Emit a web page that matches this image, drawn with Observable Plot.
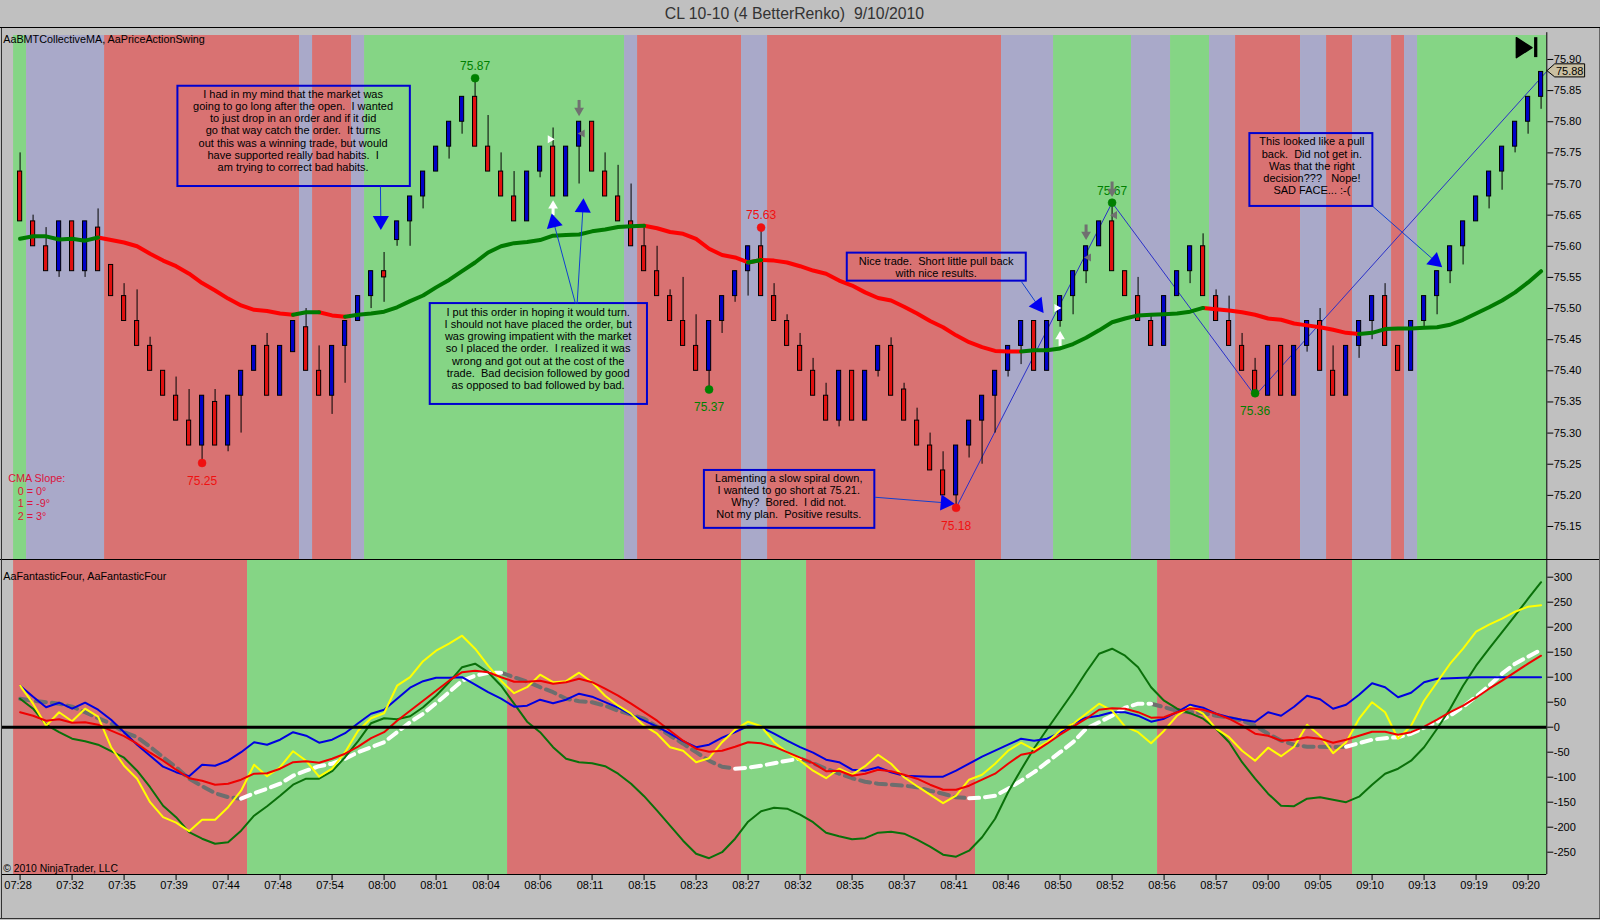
<!DOCTYPE html>
<html>
<head>
<meta charset="utf-8">
<script src="https://cdn.jsdelivr.net/npm/d3@7"></script>
<script src="https://cdn.jsdelivr.net/npm/@observablehq/plot@0.6"></script>
<style>
html,body{margin:0;padding:0;background:#c0c0c0;overflow:hidden}
#page{position:relative;width:1600px;height:920px;background:#c0c0c0;font-family:"Liberation Sans",Arial,sans-serif}
#title{height:27px;line-height:27px;text-align:center;font-size:15.8px;color:#333;border-bottom:1px solid #000;white-space:pre;padding-right:11px}
#top svg,#bottom svg{display:block}
#bottom{border-top:1px solid #000}
#lb{position:absolute;left:1px;top:28px;width:1px;height:891px;background:#333}
#rb{position:absolute;left:1599px;top:28px;width:1px;height:891px;background:#666}
#bb{position:absolute;left:0;top:918px;width:1600px;height:1px;background:#333}
</style>
</head>
<body>
<div id="page">
<div id="title">CL 10-10 (4 BetterRenko)  9/10/2010</div>
<div id="top"></div>
<div id="bottom"></div>
<div id="lb"></div><div id="rb"></div><div id="bb"></div>
</div>
<script>
// ---------- candles (Renko bars, index 0..117) ----------
const opens = [
75.72,75.64,75.60,75.56,75.64,75.56,75.63,75.57,75.52,75.48,
75.44,75.40,75.36,75.32,75.28,75.35,75.28,75.36,75.40,75.44,
75.36,75.43,75.47,75.40,75.36,75.44,75.48,75.52,75.56,75.61,
75.64,75.68,75.72,75.76,75.80,75.84,75.76,75.72,75.68,75.64,
75.72,75.76,75.68,75.76,75.80,75.72,75.68,75.64,75.60,75.56,
75.52,75.48,75.44,75.40,75.48,75.52,75.56,75.60,75.52,75.48,
75.44,75.40,75.36,75.32,75.40,75.32,75.40,75.44,75.37,75.32,
75.28,75.24,75.20,75.28,75.32,75.36,75.40,75.44,75.48,75.40,
75.48,75.52,75.56,75.60,75.64,75.56,75.52,75.48,75.44,75.52,
75.56,75.60,75.52,75.48,75.44,75.40,75.36,75.44,75.36,75.44,
75.48,75.40,75.36,75.44,75.48,75.52,75.44,75.40,75.48,75.52,
75.56,75.60,75.64,75.68,75.72,75.76,75.80,75.84];
const closes = [
75.64,75.60,75.56,75.64,75.56,75.64,75.56,75.52,75.48,75.44,
75.40,75.36,75.32,75.28,75.36,75.28,75.36,75.40,75.44,75.36,
75.44,75.48,75.40,75.36,75.44,75.48,75.52,75.56,75.55,75.64,
75.68,75.72,75.76,75.80,75.84,75.76,75.72,75.68,75.64,75.72,
75.76,75.68,75.76,75.80,75.72,75.68,75.64,75.60,75.56,75.52,
75.48,75.44,75.40,75.48,75.52,75.56,75.60,75.52,75.48,75.44,
75.40,75.36,75.32,75.40,75.32,75.40,75.44,75.36,75.32,75.28,
75.24,75.20,75.28,75.32,75.36,75.40,75.44,75.48,75.40,75.48,
75.52,75.56,75.60,75.64,75.56,75.52,75.48,75.44,75.52,75.56,
75.60,75.52,75.48,75.44,75.40,75.36,75.44,75.36,75.44,75.48,
75.40,75.36,75.44,75.48,75.52,75.44,75.40,75.48,75.52,75.56,
75.60,75.64,75.68,75.72,75.76,75.80,75.84,75.88];
const highs = [
75.75,75.65,75.63,75.64,75.64,75.64,75.66,75.57,75.54,75.53,
75.454,75.40,75.39,75.37,75.36,75.37,75.36,75.40,75.44,75.46,
75.44,75.48,75.50,75.44,75.44,75.48,75.52,75.56,75.59,75.64,
75.68,75.72,75.76,75.80,75.84,75.87,75.81,75.75,75.72,75.72,
75.76,75.79,75.76,75.80,75.80,75.75,75.73,75.70,75.63,75.60,
75.53,75.55,75.49,75.48,75.52,75.56,75.60,75.63,75.54,75.49,
75.46,75.42,75.38,75.40,75.40,75.40,75.44,75.453,75.38,75.34,
75.30,75.27,75.28,75.32,75.36,75.40,75.44,75.48,75.48,75.48,
75.52,75.56,75.60,75.64,75.67,75.56,75.55,75.49,75.52,75.56,
75.60,75.62,75.53,75.52,75.46,75.42,75.44,75.44,75.44,75.48,
75.50,75.44,75.44,75.48,75.52,75.54,75.44,75.48,75.52,75.56,
75.60,75.64,75.68,75.72,75.76,75.80,75.84,75.88];
const lows = [
75.64,75.60,75.56,75.55,75.56,75.55,75.56,75.52,75.48,75.44,
75.40,75.36,75.32,75.28,75.25,75.28,75.27,75.30,75.40,75.36,
75.36,75.43,75.40,75.36,75.33,75.38,75.48,75.50,75.51,75.60,
75.60,75.66,75.72,75.74,75.78,75.76,75.72,75.68,75.64,75.64,
75.71,75.68,75.68,75.70,75.72,75.68,75.64,75.60,75.56,75.52,
75.48,75.44,75.40,75.37,75.46,75.51,75.52,75.52,75.48,75.44,
75.40,75.36,75.32,75.31,75.32,75.32,75.39,75.36,75.32,75.28,
75.24,75.20,75.18,75.26,75.25,75.30,75.39,75.41,75.40,75.40,
75.47,75.49,75.54,75.60,75.56,75.52,75.48,75.44,75.44,75.52,
75.54,75.52,75.48,75.44,75.40,75.36,75.36,75.36,75.36,75.43,
75.40,75.36,75.36,75.42,75.45,75.44,75.40,75.40,75.47,75.49,
75.54,75.57,75.64,75.66,75.69,75.75,75.78,75.82];

// ---------- collective moving average, upper panel ----------
const cma = [
75.612,75.616,75.616,75.611,75.612,75.609,75.614,75.610,75.606,75.600,
75.588,75.577,75.568,75.556,75.541,75.529,75.516,75.505,75.498,75.496,
75.492,75.490,75.494,75.494,75.489,75.487,75.490,75.492,75.495,75.502,
75.512,75.521,75.534,75.546,75.560,75.574,75.590,75.600,75.605,75.607,
75.610,75.617,75.618,75.619,75.624,75.627,75.631,75.632,75.633,75.629,
75.623,75.620,75.612,75.596,75.586,75.582,75.574,75.578,75.577,75.574,
75.568,75.561,75.556,75.545,75.537,75.526,75.517,75.513,75.503,75.492,
75.480,75.470,75.457,75.446,75.438,75.432,75.431,75.431,75.433,75.433,
75.436,75.443,75.453,75.465,75.478,75.484,75.489,75.490,75.491,75.492,
75.495,75.501,75.499,75.497,75.494,75.490,75.484,75.482,75.476,75.473,
75.470,75.466,75.461,75.459,75.461,75.467,75.468,75.468,75.469,75.470,
75.474,75.482,75.492,75.502,75.513,75.526,75.542,75.560];
const cmaGreenSpans = [[0,6],[21,23],[25,48],[56,57],[77,91],[103,117]];
const cmaRedSpans = [[6,21],[23,25],[48,56],[57,77],[91,103]];

// ---------- background bands ----------
const topEdges = [-0.5,0.5,6.5,21.5,22.5,25.5,26.5,46.5,47.5,55.5,57.5,75.5,79.5,85.5,88.5,91.5,93.5,98.5,100.5,102.5,105.5,106.5,107.5,117.44];
const topKinds = ["g","b","r","b","r","b","g","b","r","b","r","b","g","b","g","b","r","b","r","b","r","b","g"];
const lowEdges = [-0.5,17.5,37.5,55.5,60.5,73.5,87.5,102.5,117.44];
const lowKinds = ["r","g","r","g","r","g","r","g"];
const bandColors = {g:"#85d585", r:"#d97272", b:"#a9a9c9"};

// ---------- swing points ----------
const swingI = [14,35,53,57,72,84,95];
const swingP = [75.252,75.87,75.37,75.63,75.18,75.67,75.364];
const swingText = ["75.25","75.87","75.37","75.63","75.18","75.67","75.36"];
const swingColor = ["#f01010","#008000","#008000","#f01010","#f01010","#008000","#008000"];
const swingDy = [18,-12,18,-12,18,-12,18];
const zigI = [72,84,95,117.4];
const zigP = [75.18,75.67,75.36,75.88];

// ---------- annotations ----------
const boxI1 = [12.14,31.55,63.63,52.64,94.6];
const boxI2 = [30.02,48.26,77.4,65.75,104.06];
const boxP1 = [75.857,75.508,75.589,75.24,75.781];
const boxP2 = [75.696,75.346,75.544,75.147,75.664];
const noteI = [21.0,39.85,70.47,59.13,99.37];
const noteP = [75.786,75.436,75.567,75.199,75.729];
const noteText = [
"I had in my mind that the market was\ngoing to go long after the open.  I wanted\nto just drop in an order and if it did\ngo that way catch the order.  It turns\nout this was a winning trade, but would\nhave supported really bad habits.  I\nam trying to correct bad habits.",
"I put this order in hoping it would turn.\nI should not have placed the order, but\nwas growing impatient with the market\nso I placed the order.  I realized it was\nwrong and got out at the cost of the\ntrade.  Bad decision followed by good\nas opposed to bad followed by bad.",
"Nice trade.  Short little pull back\nwith nice results.",
"Lamenting a slow spiral down,\nI wanted to go short at 75.21.\nWhy?  Bored.  I did not.\nNot my plan.  Positive results.",
"This looked like a pull\nback.  Did not get in.\nWas that the right\ndecision???   Nope!\nSAD FACE... :-("];
const arrowI1 = [27.72,42.72,42.85,77.0,65.75,104.06];
const arrowP1 = [75.696,75.508,75.508,75.544,75.197,75.664];
const arrowI2 = [27.75,41.05,43.3,78.3,71.18,108.85];
const arrowP2 = [75.641,75.638,75.662,75.505,75.188,75.576];
const headRot = [180,-13,3,143,95,131];

// ---------- small order arrows ----------
const upI = [41,80];
const upP1 = [75.650,75.440];
const upP2 = [75.665,75.455];
const downI = [43,84,82];
const downP1 = [75.835,75.704,75.635];
const downP2 = [75.818,75.688,75.619];
const whiteTriI = [40.77,79.74];
const whiteTriP = [75.772,75.501];
const grayTriI = [43.25,84.2,82.2];
const grayTriP = [75.781,75.65,75.582];

// ---------- lower panel indicator series ----------
const blueLine = [
83,61,40,49,37,49,35,15,-10,-35,
-57,-79,-90,-98,-75,-77,-67,-50,-30,-35,
-25,-10,-17,-31,-25,-12,8,27,35,57,
79,92,99,99,100,85,70,57,41,43,
55,48,55,67,61,50,39,25,13,1,
-13,-28,-40,-35,-21,-10,2,0,-13,-27,
-40,-51,-65,-70,-85,-87,-80,-90,-97,-98,
-99,-99,-87,-73,-59,-47,-35,-23,-27,-23,
-11,7,19,23,30,30,23,11,17,30,
45,39,27,20,15,11,30,23,41,63,
56,37,45,65,88,80,60,69,90,97,
98,99,100,100,100,100,100,100];
const yellowLine = [
83,47,3,30,12,37,21,-40,-77,-103,
-150,-180,-191,-208,-185,-185,-160,-127,-75,-98,
-80,-48,-67,-99,-83,-50,-7,18,28,83,
100,132,153,167,183,157,123,93,68,80,
105,90,92,109,90,63,43,27,3,-13,
-40,-47,-70,-62,-30,-5,11,2,-30,-50,
-67,-87,-102,-83,-95,-78,-55,-73,-100,-118,
-135,-152,-137,-105,-95,-73,-47,-31,-45,-30,
-7,7,27,47,33,1,-10,-32,-7,23,
41,27,-3,-20,-47,-67,-41,-58,-39,5,
-17,-52,-30,17,50,30,-23,3,53,90,
127,157,191,205,217,231,241,244];
const greenLine = [
57,37,5,-10,-23,-28,-35,-48,-61,-87,
-120,-157,-180,-210,-223,-233,-230,-207,-177,-158,
-137,-115,-103,-103,-88,-60,-28,8,18,16,
22,40,63,90,120,127,110,83,47,11,
-10,-40,-63,-70,-72,-78,-93,-113,-138,-167,
-197,-227,-253,-262,-250,-223,-189,-168,-161,-163,
-175,-190,-211,-218,-224,-222,-211,-209,-213,-225,
-239,-255,-259,-247,-220,-183,-130,-85,-42,-4,
33,70,110,147,157,143,120,80,53,37,
28,17,-3,-30,-70,-103,-133,-157,-158,-143,
-140,-145,-150,-139,-115,-93,-83,-67,-40,-3,
37,83,123,157,190,223,257,290];
const redLine = [
30,23,13,16,9,10,5,-7,-18,-33,
-51,-67,-85,-102,-107,-115,-113,-105,-93,-92,
-83,-70,-68,-71,-63,-53,-39,-22,-10,13,
33,53,73,93,110,113,110,100,91,91,
93,87,90,97,90,77,63,47,30,13,
-7,-27,-43,-49,-47,-39,-30,-32,-39,-50,
-61,-72,-88,-87,-97,-93,-85,-88,-95,-103,
-115,-125,-125,-117,-105,-93,-73,-55,-50,-33,
-15,1,17,35,38,37,30,19,20,30,
38,35,27,17,3,-13,-17,-27,-25,-20,
-23,-31,-25,-17,-9,-9,-15,-10,1,15,
30,43,59,77,93,110,127,143];
const dashLine = [
57,53,50,47,41,30,18,7,-10,-20,
-39,-60,-80,-103,-118,-132,-140,-143,-132,-123,
-113,-97,-87,-78,-73,-63,-50,-40,-30,-10,
10,27,48,70,93,103,109,109,100,91,
80,70,57,52,50,43,33,25,17,1,
-17,-33,-50,-67,-79,-83,-81,-77,-72,-67,
-63,-72,-83,-93,-102,-109,-113,-115,-117,-120,
-127,-133,-140,-142,-141,-137,-123,-107,-90,-70,
-50,-30,-3,10,23,39,47,47,40,33,
30,28,23,19,13,3,-13,-27,-35,-39,
-39,-40,-39,-32,-25,-22,-20,-13,-1,11,
23,41,61,83,107,127,141,155];
const dashWhiteSpans = [[17,37],[55,60],[73,87],[102,117]];
const dashGraySpans = [[0,17],[37,55],[60,73],[87,102]];

// ---------- axes ----------
const priceTicks = [75.15,75.20,75.25,75.30,75.35,75.40,75.45,75.50,75.55,75.60,75.65,75.70,75.75,75.80,75.85,75.90];
const oscTicks = [-250,-200,-150,-100,-50,0,50,100,150,200,250,300];
const timeLabels = ["07:28","07:32","07:35","07:39","07:44","07:48","07:54","08:00","08:01","08:04","08:06","08:11","08:15","08:23","08:27","08:32","08:35","08:37","08:41","08:46","08:50","08:52","08:56","08:57","09:00","09:05","09:10","09:13","09:19","09:20"];
const lastPrice = 75.88;
const tagI = [117.45,118.05,120.35,120.35,118.05,117.45];
const tagP = [75.882,75.893,75.893,75.872,75.872,75.882];
const endTriI = [115.1,116.3,115.1,115.1];
const endTriP = [75.935,75.919,75.903,75.935];

// ---------- derived rows ----------
const idx = d3.range(opens.length);
const candles = idx.map(i => ({i, o:opens[i], c:closes[i], h:highs[i], l:lows[i]}));
const bandsOf = (edges, kinds) => kinds.map((k,j) => ({x1:edges[j], x2:edges[j+1], k}));
const inSpans = (i, spans) => spans.some(([a,b]) => i>=a && i<=b);
const spanSeries = (values, spans) => values.map((v,i) => ({i, v: inSpans(i,spans) ? v : NaN}));
const xDomain = [-1.43, 117.44];
const fontFam = '"Liberation Sans", Arial, sans-serif';
const bandScale = {domain:Object.keys(bandColors), range:Object.values(bandColors)};
const boxes = boxI1.map((_,j) => ({x1:boxI1[j], x2:boxI2[j], y1:boxP1[j], y2:boxP2[j]}));
const notes = noteI.map((_,j) => ({x:noteI[j], y:noteP[j], t:noteText[j]}));
const arrows = arrowI1.map((_,j) => ({x1:arrowI1[j], y1:arrowP1[j], x2:arrowI2[j], y2:arrowP2[j], r:headRot[j]}));
const swings = swingI.map((_,j) => ({i:swingI[j], p:swingP[j], t:swingText[j], c:swingColor[j], dy:swingDy[j]}));
const ptr = (xs, ys) => xs.map((x,j) => ({x, y:ys[j]}));
const swingLabels = [...d3.group(swings, d => d.dy)].map(([dy,rows]) =>
  Plot.text(rows, {x:"i", y:"p", text:"t", dy, fontSize:12, fill:"c"}));

const labelText = (rows, o) => Plot.text(rows, {fontSize:10.8, textAnchor:"start", fill:"#000", ...o});

const topPlot = Plot.plot({
  width:1600, height:531,
  marginLeft:1, marginRight:53.7, marginTop:7, marginBottom:0,
  style:{background:"transparent", fontFamily:fontFam, whiteSpace:"pre"},
  x:{domain:xDomain, axis:null},
  y:{domain:[75.097,75.9385], axis:null},
  color:bandScale,
  marks:[
    Plot.rect(bandsOf(topEdges,topKinds), {x1:"x1", x2:"x2", fill:"k"}),
    Plot.line(ptr(zigI,zigP), {x:"x", y:"y", stroke:"#2a30c8", strokeWidth:1}),
    Plot.ruleX(candles, {x:"i", y1:"l", y2:"h", stroke:"#000", strokeWidth:1}),
    Plot.rect(candles.filter(d=>d.c<d.o), {x1:d=>d.i-0.16, x2:d=>d.i+0.16, y1:"c", y2:"o", fill:"#e01010", stroke:"#000", strokeWidth:1}),
    Plot.rect(candles.filter(d=>d.c>d.o), {x1:d=>d.i-0.16, x2:d=>d.i+0.16, y1:"o", y2:"c", fill:"#0000c8", stroke:"#000", strokeWidth:1}),
    Plot.line(spanSeries(cma,cmaRedSpans), {x:"i", y:"v", stroke:"#ff0000", strokeWidth:4}),
    Plot.line(spanSeries(cma,cmaGreenSpans), {x:"i", y:"v", stroke:"#007a00", strokeWidth:4}),
    Plot.dot(swings, {x:"i", y:"p", r:4, fill:"c", stroke:"c", strokeWidth:0.5}),
    ...swingLabels,
    // order arrows
    Plot.link(upI.map((x,j)=>({x,a:upP1[j],b:upP2[j]})), {x:"x", y1:"a", y2:"b", stroke:"#fff", strokeWidth:3}),
    Plot.dot(ptr(upI,upP2), {x:"x", y:"y", symbol:"triangle", r:3.6, fill:"#fff"}),
    Plot.link(downI.map((x,j)=>({x,a:downP1[j],b:downP2[j]})), {x:"x", y1:"a", y2:"b", stroke:"#707070", strokeWidth:3}),
    Plot.dot(ptr(downI,downP2), {x:"x", y:"y", symbol:"triangle", r:3.6, fill:"#707070", rotate:180}),
    Plot.dot(ptr(whiteTriI,whiteTriP), {x:"x", y:"y", symbol:"triangle", r:3, fill:"#fff", rotate:90}),
    Plot.dot(ptr(grayTriI,grayTriP), {x:"x", y:"y", symbol:"triangle", r:3, fill:"#707070", rotate:-90}),
    // notes
    Plot.rect(boxes, {x1:"x1", x2:"x2", y1:"y1", y2:"y2", fill:"none", stroke:"#0000d0", strokeWidth:2}),
    Plot.text(notes, {x:"x", y:"y", text:"t", fontSize:11, lineHeight:1.11, fill:"#000"}),
    Plot.link(arrows, {x1:"x1", y1:"y1", x2:"x2", y2:"y2", stroke:"#1040d0", strokeWidth:1}),
    Plot.dot(arrows, {x:"x2", y:"y2", symbol:"triangle", r:6, fill:"#0000f0", rotate:"r"}),
    // headers
    labelText([0], {x:-1.3, y:()=>75.9316, text:()=>"AaBMTCollectiveMA, AaPriceActionSwing"}),
    labelText(["CMA Slope:"], {x:-0.92, y:()=>75.2266, text:d=>d, fill:"#dc143c"}),
    labelText(["0 = 0°"], {x:-0.18, y:()=>75.206, text:d=>d, fill:"#dc143c"}),
    labelText(["1 = -9°"], {x:-0.18, y:()=>75.187, text:d=>d, fill:"#dc143c"}),
    labelText(["2 = 3°"], {x:-0.18, y:()=>75.166, text:d=>d, fill:"#dc143c"}),
    // last-bar icon
    Plot.line(ptr(endTriI,endTriP), {x:"x", y:"y", fill:"#000", stroke:"#000"}),
    Plot.rect([0], {x1:()=>116.5, x2:()=>116.75, y1:()=>75.903, y2:()=>75.935, fill:"#000"}),
    // axis
    Plot.ruleX([xDomain[1]], {y1:75.097, y2:75.943, stroke:"#000", strokeWidth:1}),
    Plot.axisY(priceTicks, {anchor:"right", tickSize:6, tickPadding:1, fontSize:11, tickFormat:d3.format(".2f"), label:null, stroke:"#000", fill:"#000"}),
    Plot.line(ptr(tagI,tagP), {x:"x", y:"y", fill:"#c9bfa2", stroke:"#000", strokeWidth:1}),
    Plot.text([lastPrice], {x:()=>119.2, y:d=>d, text:d=>d.toFixed(2), fontSize:11, fill:"#000"})
  ]
});
document.getElementById("top").appendChild(topPlot);

const timeTicks = d3.range(0,timeLabels.length).map(k=>k*4);
const lowPlot = Plot.plot({
  width:1600, height:359,
  marginLeft:1, marginRight:53.7, marginTop:0, marginBottom:45,
  style:{background:"transparent", fontFamily:fontFam},
  x:{domain:xDomain, axis:null},
  y:{domain:[-294.6,333.4], axis:null},
  color:bandScale,
  marks:[
    Plot.rect(bandsOf(lowEdges,lowKinds), {x1:"x1", x2:"x2", fill:"k"}),
    Plot.line(spanSeries(dashLine,dashGraySpans), {x:"i", y:"v", stroke:"#6e6e6e", strokeWidth:4, strokeDasharray:"10,6"}),
    Plot.line(spanSeries(dashLine,dashWhiteSpans), {x:"i", y:"v", stroke:"#ffffff", strokeWidth:4, strokeDasharray:"10,6"}),
    Plot.line(greenLine.map((v,i)=>({i,v})), {x:"i", y:"v", stroke:"#0a700a", strokeWidth:2}),
    Plot.line(blueLine.map((v,i)=>({i,v})), {x:"i", y:"v", stroke:"#0000e0", strokeWidth:2}),
    Plot.line(yellowLine.map((v,i)=>({i,v})), {x:"i", y:"v", stroke:"#ffff00", strokeWidth:2}),
    Plot.line(redLine.map((v,i)=>({i,v})), {x:"i", y:"v", stroke:"#f00000", strokeWidth:2}),
    Plot.ruleY([0], {stroke:"#000", strokeWidth:3}),
    labelText([0], {x:-1.3, y:()=>300.6, text:()=>"AaFantasticFour, AaFantasticFour"}),
    labelText([0], {x:-1.3, y:()=>-282.6, fontSize:10.4, text:()=>"© 2010 NinjaTrader, LLC"}),
    Plot.ruleX([xDomain[1]], {stroke:"#000", strokeWidth:1}),
    Plot.ruleY([-294.6], {stroke:"#000", strokeWidth:1}),
    Plot.axisY(oscTicks, {anchor:"right", tickSize:6, tickPadding:1, fontSize:11, label:null, tickFormat:d=>String(d), stroke:"#000", fill:"#000"}),
    Plot.axisX(timeTicks, {anchor:"bottom", tickSize:6, text:null, label:null, stroke:"#000"}),
    Plot.axisX(timeTicks, {anchor:"bottom", tickSize:0, tickPadding:7, dx:-2, fontSize:11, label:null, tickFormat:d=>timeLabels[d/4], fill:"#000"})
  ]
});
document.getElementById("bottom").appendChild(lowPlot);
</script>
</body>
</html>
